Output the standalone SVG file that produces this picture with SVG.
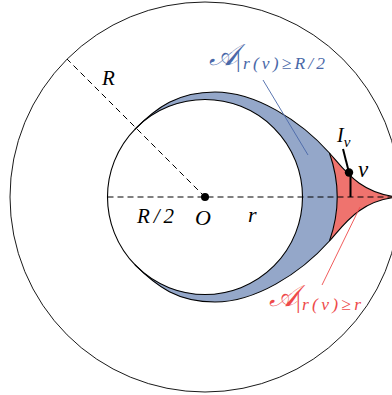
<svg xmlns="http://www.w3.org/2000/svg" width="392" height="395" viewBox="0 0 392 395">
<style>
.lbl{font-family:"Liberation Serif","DejaVu Serif",serif;font-style:italic;fill:#000}
.blue{fill:#4a68a8}
.red{fill:#ee4a4a}
.dash{fill:none;stroke:#000;stroke-width:1;stroke-dasharray:6 4}
.edge{fill:none;stroke:#000;stroke-width:1.1}
</style>
<rect x="0" y="0" width="392" height="395" fill="#fff"/>
<g id="regions">
<path id="regionBlue" d="M134.9,129.3 C157,107 178,92 215,92 C255,92 300,120 329.45,153 A132 132 0 0 1 329.45,241 C300,274 255,302 215,302 C178,302 157,287 134.9,264.7 A97.5 97.5 0 1 0 134.9,129.3 Z" fill="#94a7c9"/>
<path id="regionRed" d="M329.45,153 C343,168 360,195 400,197 C360,199 343,226 329.45,241 A132 132 0 0 0 329.45,153 Z" fill="#ef736e"/>
</g>
<g id="outerDisk"><circle cx="205" cy="197" r="195" fill="none" stroke="#000" stroke-width="0.9"/></g>
<g id="halfDisk"><circle cx="205" cy="197" r="97.5" class="edge" stroke-width="1.4"/></g>
<g id="boundaries">
<path class="edge" d="M134.9,129.3 C157,107 178,92 215,92 C255,92 300,120 329.45,153 C343,168 360,195 400,197 C360,199 343,226 329.45,241 C300,274 255,302 215,302 C178,302 157,287 134.9,264.7"/>
<path class="edge" d="M329.45,153 A132 132 0 0 1 329.45,241"/>
</g>
<g id="connectors">
<path class="dash" d="M107.5,197 H400"/>
<path class="dash" d="M205,197 L67,59"/>
<path d="M343,149 L349,172.5" stroke="#000" stroke-width="2" fill="none"/>
<path d="M350.5,172.5 V197" stroke="#000" stroke-width="2" fill="none"/>
<path d="M263,80 L308,155" stroke="#4a68a8" stroke-width="0.9" fill="none"/>
<path d="M322,285 L360,207" stroke="#ee4a4a" stroke-width="0.9" fill="none"/>
</g>
<g id="nodeO"><circle cx="205" cy="197" r="4" fill="#000"/>
<text class="lbl" x="195" y="225" font-size="22">O</text></g>
<g id="nodeV"><circle cx="349" cy="172.5" r="4.2" fill="#000"/>
<text class="lbl" x="358" y="177" font-size="23">v</text></g>
<g id="labels">
<text class="lbl" x="102" y="85" font-size="21">R</text>
<text class="lbl" x="137" y="223" font-size="21" textLength="37" lengthAdjust="spacing">R/2</text>
<text class="lbl" x="248" y="222" font-size="22">r</text>
<text class="lbl" x="337" y="142" font-size="20">I<tspan font-size="15" dy="5">v</tspan></text>
<text class="lbl blue" x="209" y="65" font-size="30">𝒜<tspan font-style="normal" font-size="23" x="236" y="67">|</tspan><tspan font-size="17.5" x="243" y="69" textLength="82" lengthAdjust="spacing">r(v)≥R/2</tspan></text>
<text class="lbl red" x="269" y="306" font-size="30">𝒜<tspan font-style="normal" font-size="23" x="296" y="308">|</tspan><tspan font-size="17.5" x="302" y="310" textLength="59" lengthAdjust="spacing">r(v)≥r</tspan></text>
</g>
</svg>
